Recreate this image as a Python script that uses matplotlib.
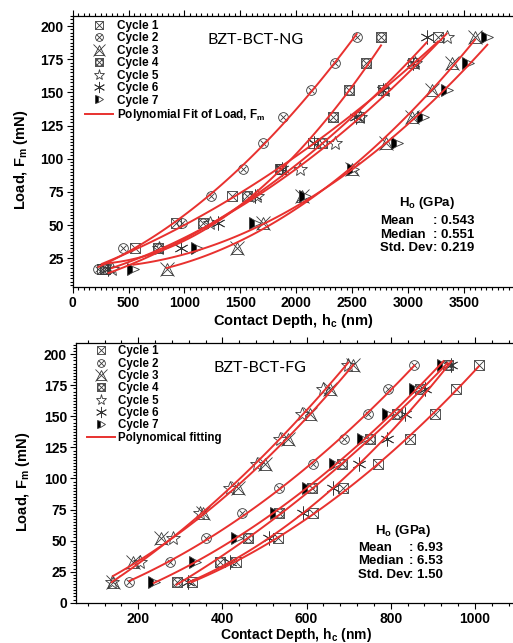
import numpy as np
import matplotlib
matplotlib.use("Agg")
import matplotlib.pyplot as plt
from matplotlib.lines import Line2D
from matplotlib.ticker import MultipleLocator

plt.rcParams['font.family'] = ['Liberation Sans', 'DejaVu Sans']
plt.rcParams['font.weight'] = 'bold'
plt.rcParams['axes.labelweight'] = 'bold'
plt.rcParams['mathtext.fontset'] = 'custom'
plt.rcParams['mathtext.rm'] = 'Liberation Sans:bold'
plt.rcParams['mathtext.it'] = 'Liberation Sans:bold'
plt.rcParams['mathtext.bf'] = 'Liberation Sans:bold'
plt.rcParams['mathtext.default'] = 'rm'

# applied loads (mN), same steps for every cycle
loads = [16.6, 33.0, 51.8, 71.9, 92.0, 111.7, 131.7, 151.8, 171.9, 191.6]

# contact depth (nm) per cycle, BZT-BCT-NG
ng_c1 = [260, 557, 925, 1422, 1854, 2152, 2560, 2778, 3047, 3268]
ng_c2 = [230, 450, 975, 1240, 1520, 1700, 1884, 2129, 2346, 2540]
ng_c3 = [841, 1467, 1705, 2048, 2496, 2802, 3038, 3211, 3390, 3599]
ng_c4 = [290, 766, 1165, 1556, 1860, 2227, 2331, 2471, 2621, 2758]
ng_c5 = [350, 775, 1228, 1645, 2033, 2346, 2570, 2790, 3060, 3345]
ng_c6 = [320, 965, 1303, 1631, 1875, 2160, 2534, 2778, 3040, 3166]
ng_c7 = [542, 1109, 1631, 2078, 2505, 2898, 3131, 3345, 3539, 3709]

# contact depth (nm) per cycle, BZT-BCT-FG
fg_c1 = [327, 432, 533, 616, 687, 769, 845, 905, 956, 1009]
fg_c2 = [179, 275, 362, 446, 535, 616, 689, 746, 794, 856]
fg_c3 = [140, 188, 255, 353, 438, 501, 556, 608, 655, 711]
fg_c4 = [291, 394, 461, 535, 612, 683, 750, 814, 869, 935]
fg_c5 = [137, 204, 283, 347, 418, 481, 537, 588, 640, 699]
fg_c6 = [319, 418, 511, 592, 662, 725, 790, 834, 881, 944]
fg_c7 = [237, 335, 435, 527, 604, 667, 735, 794, 857, 925]

cycle_names = ['Cycle 1', 'Cycle 2', 'Cycle 3', 'Cycle 4', 'Cycle 5', 'Cycle 6', 'Cycle 7']

MK = '#383838'
RED = '#e8312f'

# each cycle marker is drawn as a stack of simple markers
marker_parts = [
    [dict(marker='s', ms=7), dict(marker='x', ms=7)],
    [dict(marker='o', ms=7), dict(marker='x', ms=5)],
    [dict(marker='^', ms=9), dict(marker='x', ms=10)],
    [dict(marker='s', ms=7), dict(marker='o', ms=6.5), dict(marker='x', ms=7)],
    [dict(marker='*', ms=10)],
    [dict(marker=(6, 2, 0), ms=10)],
    [dict(marker='>', ms=8, fillstyle='left', mfc='black', mfcalt='white')],
]


def draw_cycle(ax, x, y, parts):
    handles = []
    for p in parts:
        p = dict(p)
        kw = dict(ls='none', mec=MK, mew=0.6, zorder=2)
        if 'fillstyle' not in p:
            kw['mfc'] = 'none'
        kw.update(p)
        h, = ax.plot(x, y, **kw)
        handles.append(h)
    return tuple(handles)


def draw_fit(ax, x, y):
    x = np.array(x, dtype=float)
    coef = np.polyfit(x, y, 2)
    xx = np.linspace(x.min(), x.max(), 120)
    ax.plot(xx, np.polyval(coef, xx), color=RED, lw=1.4, zorder=3)


def style_axis(ax):
    ax.tick_params(which='both', direction='out', top=True, right=False,
                   labelsize=10, width=0.8, pad=2)
    ax.tick_params(which='major', length=4.5)
    ax.tick_params(which='minor', length=2.3)
    ax.spines['right'].set_visible(False)
    for s in ['left', 'bottom', 'top']:
        ax.spines[s].set_linewidth(0.9)
    for lbl in ax.get_xticklabels() + ax.get_yticklabels():
        lbl.set_fontweight('bold')


fig = plt.figure(figsize=(5.13, 6.43), dpi=100)

# ---- top panel: NG
ax1 = fig.add_axes([0.1417, 0.5537, 0.8717, 0.4219])
ng = [ng_c1, ng_c2, ng_c3, ng_c4, ng_c5, ng_c6, ng_c7]
handles = []
for depth, parts in zip(ng, marker_parts):
    handles.append(draw_cycle(ax1, depth, loads, parts))
    draw_fit(ax1, depth, loads)
ax1.set_xlim(0, 4000)
ax1.set_ylim(3.4, 207.8)
ax1.set_xticks(np.arange(0, 3501, 500))
ax1.set_yticks(np.arange(25, 201, 25))
ax1.xaxis.set_minor_locator(MultipleLocator(50))
ax1.yaxis.set_minor_locator(MultipleLocator(2.5))
style_axis(ax1)
ax1.set_xlabel(r'Contact Depth, h$_\mathrm{c}$ (nm)', fontsize=10.5, fontweight='bold', va='center')
ax1.xaxis.set_label_coords(0.493, -0.127)
ax1.set_ylabel(r'Load, F$_\mathrm{m}$ (mN)', fontsize=10.5, fontweight='bold', va='center')
ax1.yaxis.set_label_coords(-0.116, 0.468)
fit1 = Line2D([], [], color=RED, lw=1.4)
ax1.legend(handles + [fit1], cycle_names + [r'Polynomial Fit of Load, F$_\mathrm{m}$'],
           loc='upper left', bbox_to_anchor=(0.0275, 0.985), frameon=False,
           prop=dict(size=8.5, weight='bold'), handlelength=2.4, handletextpad=0.3,
           labelspacing=0.04, borderpad=0, borderaxespad=0, markerscale=0.8, numpoints=1)
ax1.text(0.408, 0.91, 'BZT-BCT-NG', transform=ax1.transAxes, ha='center', va='center',
         fontsize=11.5, fontweight='normal', family=['Lato', 'DejaVu Sans'])
ax1.text(0.7916, 0.3107, r'H$_\mathrm{o}$ (GPa)', transform=ax1.transAxes,
         ha='center', va='center', fontsize=9.5, fontweight='bold')
for lab, val, yy in [('Mean', '0.543', 0.2444), ('Median', '0.551', 0.1917),
                     ('Std. Dev', '0.219', 0.1426)]:
    ax1.text(0.687, yy, lab, transform=ax1.transAxes, ha='left', va='center',
             fontsize=9.5, fontweight='bold')
    ax1.text(0.806, yy, ': ' + val, transform=ax1.transAxes, ha='left', va='center',
             fontsize=9.5, fontweight='bold')

# ---- bottom panel: FG
ax2 = fig.add_axes([0.1481, 0.0617, 0.8597, 0.4053])
fg = [fg_c1, fg_c2, fg_c3, fg_c4, fg_c5, fg_c6, fg_c7]
handles = []
for depth, parts in zip(fg, marker_parts):
    handles.append(draw_cycle(ax2, depth, loads, parts))
    draw_fit(ax2, depth, loads)
ax2.set_xlim(52, 1100)
ax2.set_ylim(-0.5, 209.3)
ax2.set_xticks(np.arange(200, 1001, 200))
ax2.set_yticks(np.arange(0, 201, 25))
ax2.xaxis.set_minor_locator(MultipleLocator(40))
ax2.yaxis.set_minor_locator(MultipleLocator(2.5))
style_axis(ax2)
ax2.set_xlabel(r'Contact Depth, h$_\mathrm{c}$ (nm)', fontsize=10, fontweight='bold', va='center')
ax2.xaxis.set_label_coords(0.4996, -0.1225)
ax2.set_ylabel(r'Load, F$_\mathrm{m}$ (mN)', fontsize=10.5, fontweight='bold', va='center')
ax2.yaxis.set_label_coords(-0.120, 0.4665)
fit2 = Line2D([], [], color=RED, lw=1.4)
ax2.legend(handles + [fit2], cycle_names + ['Polynomical fitting'],
           loc='upper left', bbox_to_anchor=(0.025, 0.99), frameon=False,
           prop=dict(size=8.3, weight='bold'), handlelength=2.4, handletextpad=0.3,
           labelspacing=0.03, borderpad=0, borderaxespad=0, markerscale=0.8, numpoints=1)
ax2.text(0.417, 0.9018, 'BZT-BCT-FG', transform=ax2.transAxes, ha='center', va='center',
         fontsize=11.5, fontweight='normal', family=['Lato', 'DejaVu Sans'])
ax2.text(0.742, 0.2786, r'H$_\mathrm{o}$ (GPa)', transform=ax2.transAxes,
         ha='center', va='center', fontsize=9.5, fontweight='bold')
for lab, val, yy in [('Mean', '6.93', 0.2133), ('Median', '6.53', 0.1623),
                     ('Std. Dev', '1.50', 0.1086)]:
    ax2.text(0.6388, yy, lab, transform=ax2.transAxes, ha='left', va='center',
             fontsize=9.5, fontweight='bold')
    ax2.text(0.7558, yy, ': ' + val, transform=ax2.transAxes, ha='left', va='center',
             fontsize=9.5, fontweight='bold')

fig.savefig('out.png', dpi=100)
